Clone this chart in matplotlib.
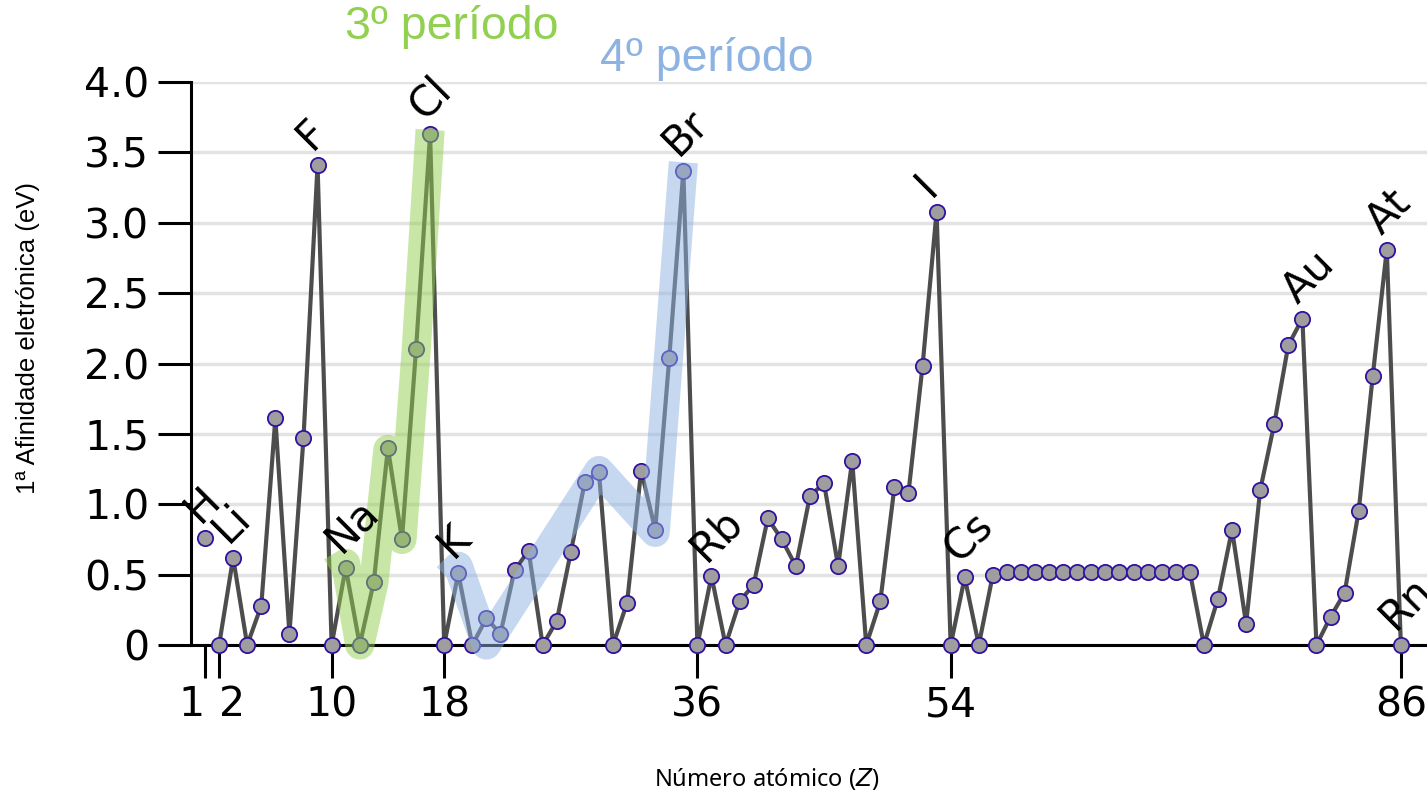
import matplotlib.pyplot as plt
import numpy as np

# Afinidade eletrónica (eV), Z = 1..86
z = np.arange(1, 87)
afinidade = [0.76, 0, 0.62, 0, 0.28, 1.61, 0.08, 1.47, 3.41, 0,
             0.55, 0, 0.45, 1.40, 0.75, 2.10, 3.63, 0,
             0.51, 0, 0.19, 0.08, 0.53, 0.67, 0, 0.17, 0.66, 1.16, 1.23, 0,
             0.30, 1.24, 0.82, 2.04, 3.37, 0,
             0.49, 0, 0.31, 0.43, 0.90, 0.75, 0.56, 1.06, 1.15, 0.56, 1.31, 0,
             0.31, 1.12, 1.08, 1.98, 3.08, 0,
             0.48, 0, 0.50, 0.52, 0.52, 0.52, 0.52, 0.52, 0.52, 0.52,
             0.52, 0.52, 0.52, 0.52, 0.52, 0.52, 0.52,
             0, 0.33, 0.82, 0.15, 1.10, 1.57, 2.13, 2.32, 0,
             0.20, 0.37, 0.95, 1.91, 2.81, 0]

rotulos = ['H', 'Li', 'F', 'Na', 'Cl', 'K', 'Br', 'Rb', 'I', 'Cs', 'Au', 'At', 'Rn']
rotulos_z = [1, 3, 9, 11, 17, 19, 35, 37, 53, 55, 79, 85, 86]

xticks = [1, 2, 10, 18, 36, 54, 86]
yticks = [0, 0.5, 1.0, 1.5, 2.0, 2.5, 3.0, 3.5, 4.0]
ytick_labels = ['0', '0.5', '1.0', '1.5', '2.0', '2.5', '3.0', '3.5', '4.0']

# caminhos de destaque dos periodos
p3_z = [10.0, 11, 12, 13, 14, 15, 16, 17]
p3_y = [0.52, 0.58, 0, 0.44, 1.39, 0.75, 2.08, 3.66]
p4_z = [18.2, 19, 21, 29, 33, 35]
p4_y = [0.48, 0.56, 0, 1.24, 0.80, 3.43]

verde = '#92d050'
azul = '#8db3e2'

fig = plt.figure(figsize=(14.27, 7.99), dpi=100)
ax = fig.add_axes([0.1338, 0.1927, 0.8676, 0.7046])

ax.plot(z[1:], afinidade[1:], color='#4d4d4d', lw=3, zorder=3, clip_on=False)
ax.plot(z, afinidade, 'o', ms=11, mfc='#9e9e9e', mec='#3311a0', mew=1.3,
        zorder=4, clip_on=False)

ax.plot(p3_z, p3_y, color=verde, lw=21, alpha=0.5, solid_capstyle='butt',
        solid_joinstyle='round', zorder=5, clip_on=False)
ax.plot(p4_z, p4_y, color=azul, lw=21, alpha=0.5, solid_capstyle='butt',
        solid_joinstyle='round', zorder=5, clip_on=False)

for nome, zz in zip(rotulos, rotulos_z):
    ax.annotate(nome, (zz, afinidade[zz - 1]), xytext=(-4, 10), textcoords='offset points',
                rotation=45, rotation_mode='anchor', ha='left', va='baseline',
                fontsize=30, zorder=6, annotation_clip=False)

ax.set_xlim(0, 88)
ax.set_ylim(0, 4.0)
ax.set_xticks(xticks)
ax.set_xticklabels([str(t) for t in xticks])
ax.set_yticks(yticks)
ax.set_yticklabels(ytick_labels)
ax.tick_params(axis='both', direction='out', length=24, width=2.2, labelsize=29.5)
ax.tick_params(axis='x', pad=5)
ax.tick_params(axis='y', pad=6)
for lab in ax.get_xticklabels():
    if lab.get_text() == '1':
        lab.set_ha('right')
    elif lab.get_text() == '2':
        lab.set_ha('left')

ax.spines['top'].set_visible(False)
ax.spines['right'].set_visible(False)
ax.spines['left'].set_linewidth(2.2)
ax.spines['bottom'].set_linewidth(2.2)
ax.yaxis.grid(True, color='#e3e3e3', lw=2.5)
ax.set_axisbelow(True)

ax.set_ylabel('1ª Afinidade eletrónica (eV)', fontsize=18.5, family='Liberation Sans')
ax.yaxis.set_label_coords(-0.122, 0.545)
ax.set_xlabel('Número atómico ($Z$)', fontsize=17, family='Noto Sans')
ax.xaxis.set_label_coords(0.465, -0.215)

fig.text(0.2418, 0.951, '3º período', color=verde, fontsize=33.5,
         family='Liberation Sans', ha='left', va='baseline')
fig.text(0.4205, 0.911, '4º período', color=azul, fontsize=33.5,
         family='Liberation Sans', ha='left', va='baseline')

fig.savefig('out.png', dpi=100)
